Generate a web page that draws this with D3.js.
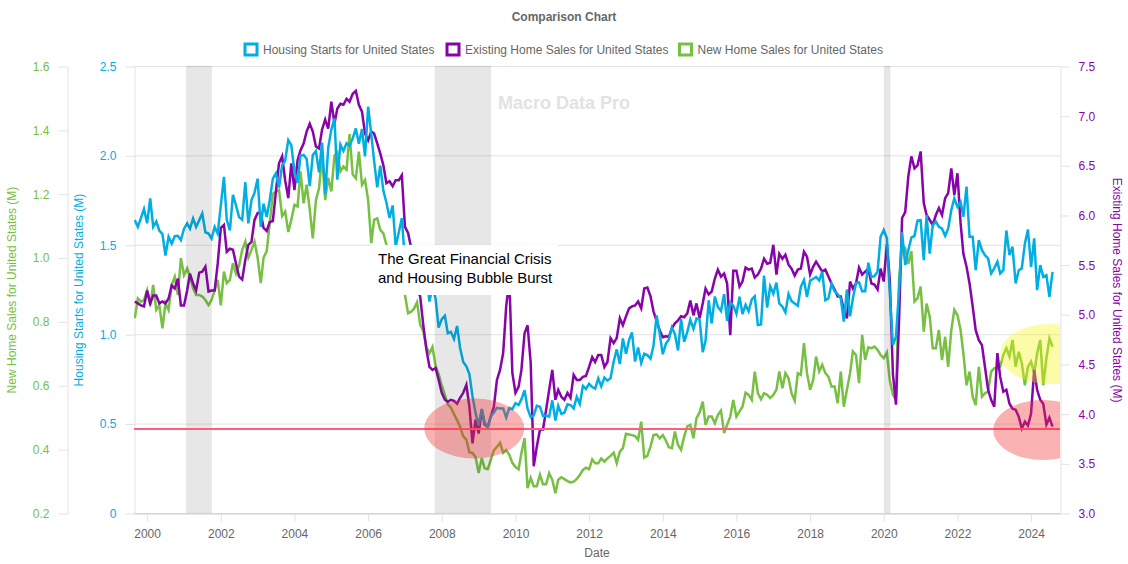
<!DOCTYPE html>
<html>
<head>
<meta charset="utf-8">
<script src="https://cdn.jsdelivr.net/npm/d3@7"></script>
<style>
  html, body { margin: 0; padding: 0; background: #fff; }
  svg { display: block; font-family: "Liberation Sans", Arial, sans-serif; }
</style>
</head>
<body>
<script>
// Monthly, Sep 1999 to Aug 2024, millions of units. One row per calendar year.
const firstMonth = new Date(1999, 8, 1);

const housingStarts = [
  1.638, 1.600, 1.650, 1.700,
  1.620, 1.760, 1.600, 1.630, 1.580, 1.560, 1.440, 1.545, 1.507, 1.548, 1.550, 1.526,
  1.590, 1.620, 1.590, 1.647, 1.600, 1.638, 1.675, 1.570, 1.563, 1.535, 1.600, 1.563,
  1.720, 1.880, 1.640, 1.580, 1.780, 1.720, 1.655, 1.640, 1.850, 1.620, 1.750, 1.790,
  1.870, 1.600, 1.730, 1.656, 1.750, 1.870, 1.900, 1.820, 1.945, 1.970, 2.085, 2.057,
  1.911, 1.846, 1.998, 2.003, 1.981, 1.828, 2.002, 2.024, 1.905, 2.072, 1.782, 2.042,
  2.144, 2.207, 1.864, 2.061, 2.025, 2.068, 2.054, 2.095, 2.151, 2.065, 2.147, 1.994,
  2.273, 2.119, 1.969, 1.821, 1.942, 1.802, 1.737, 1.650, 1.720, 1.491, 1.570, 1.649,
  1.409, 1.480, 1.495, 1.490, 1.415, 1.448, 1.354, 1.330, 1.183, 1.264, 1.197, 1.037,
  1.084, 1.103, 1.005, 1.013, 0.973, 1.046, 0.923, 0.844, 0.820, 0.777, 0.652, 0.560,
  0.490, 0.582, 0.505, 0.478, 0.540, 0.562, 0.588, 0.585, 0.585, 0.534, 0.588, 0.581,
  0.614, 0.604, 0.636, 0.687, 0.583, 0.536, 0.546, 0.599, 0.594, 0.543, 0.545, 0.539,
  0.630, 0.517, 0.600, 0.554, 0.561, 0.608, 0.604, 0.585, 0.650, 0.610, 0.711, 0.694,
  0.723, 0.704, 0.695, 0.753, 0.708, 0.757, 0.740, 0.754, 0.847, 0.915, 0.833, 0.976,
  0.890, 0.969, 1.010, 0.847, 0.926, 0.839, 0.891, 0.883, 0.863, 0.936, 1.105, 1.003,
  0.888, 0.947, 0.969, 1.038, 1.001, 0.909, 1.085, 0.957, 1.013, 1.081, 1.030, 1.088,
  1.080, 0.900, 0.963, 1.190, 1.060, 1.211, 1.152, 1.130, 1.224, 1.074, 1.179, 1.160,
  1.114, 1.210, 1.113, 1.164, 1.128, 1.195, 1.212, 1.051, 1.054, 1.328, 1.149, 1.268,
  1.226, 1.288, 1.172, 1.154, 1.122, 1.225, 1.185, 1.172, 1.159, 1.265, 1.303, 1.210,
  1.300, 1.310, 1.320, 1.300, 1.350, 1.190, 1.200, 1.280, 1.240, 1.225, 1.200, 1.070,
  1.250, 1.100, 1.200, 1.285, 1.290, 1.240, 1.240, 1.400, 1.320, 1.325, 1.350, 1.546,
  1.583, 1.536, 1.230, 0.940, 0.985, 1.247, 1.570, 1.387, 1.470, 1.540, 1.550, 1.635,
  1.638, 1.414, 1.666, 1.450, 1.610, 1.630, 1.600, 1.590, 1.550, 1.590, 1.694, 1.760,
  1.713, 1.740, 1.657, 1.825, 1.545, 1.545, 1.358, 1.526, 1.470, 1.442, 1.424, 1.340,
  1.368, 1.405, 1.340, 1.358, 1.580, 1.442, 1.489, 1.284, 1.358, 1.368, 1.508, 1.586,
  1.377, 1.536, 1.246, 1.386, 1.321, 1.330, 1.209, 1.349
];

const existingHomeSales = [
  5.13, 5.11, 5.09, 5.08,
  5.24, 5.11, 5.19, 5.19, 5.11, 5.13, 5.11, 5.16, 5.29, 5.26, 5.36, 5.09,
  5.09, 5.24, 5.41, 5.31, 5.24, 5.42, 5.43, 5.48, 5.23, 5.24, 5.24, 5.51,
  5.87, 5.90, 5.63, 5.66, 5.65, 5.51, 5.38, 5.35, 5.55, 5.70, 5.73, 5.95,
  6.02, 6.02, 5.87, 5.84, 5.93, 5.94, 6.23, 6.52, 6.59, 6.35, 6.17, 6.52,
  6.25, 6.55, 6.65, 6.72, 6.84, 6.92, 6.84, 6.69, 6.67, 6.86, 6.96, 6.87,
  7.14, 6.92, 7.07, 7.12, 7.11, 7.17, 7.14, 7.22, 7.25, 7.11, 7.04, 6.82,
  6.75, 6.84, 6.82, 6.72, 6.62, 6.50, 6.32, 6.34, 6.29, 6.35, 6.35, 6.40,
  5.88, 5.82, 5.68, 5.50, 5.25, 5.18, 4.90, 4.65, 4.47, 4.44, 4.46, 4.34,
  4.21, 4.14, 4.12, 4.14, 4.13, 4.10, 4.16, 4.21, 4.29, 4.07, 3.70, 3.94,
  3.80, 4.04, 3.89, 3.87, 3.97, 4.07, 4.34, 4.44, 4.61, 5.08, 5.35, 4.41,
  4.21, 4.27, 4.44, 4.81, 4.89, 4.51, 3.47, 3.67, 3.84, 3.84, 4.04, 4.24,
  4.44, 4.14, 4.24, 4.17, 4.14, 4.21, 4.16, 4.39, 4.34, 4.34, 4.37, 4.38,
  4.47, 4.57, 4.52, 4.59, 4.59, 4.47, 4.52, 4.76, 4.71, 4.76, 4.96, 4.89,
  4.98, 5.06, 5.08, 5.09, 5.13, 5.06, 5.26, 5.27, 5.18, 5.03, 4.93, 4.84,
  4.77, 4.78, 4.77, 4.86, 4.91, 4.94, 4.98, 4.97, 5.01, 5.14, 4.99, 5.11,
  4.96, 5.11, 5.26, 5.20, 5.23, 5.36, 5.45, 5.38, 5.41, 5.31, 4.79, 5.44,
  5.44, 5.28, 5.33, 5.47, 5.45, 5.46, 5.37, 5.40, 5.46, 5.56, 5.51, 5.52,
  5.70, 5.40, 5.61, 5.56, 5.60, 5.50, 5.46, 5.39, 5.45, 5.46, 5.63, 5.58,
  5.40, 5.48, 5.53, 5.48, 5.43, 5.45, 5.38, 5.31, 5.25, 5.18, 5.18, 5.04,
  4.96, 5.33, 5.26, 5.31, 5.47, 5.40, 5.43, 5.46, 5.31, 5.30, 5.25, 5.46,
  5.33, 5.71, 5.35, 4.40, 4.09, 4.94, 5.97, 6.03, 6.39, 6.59, 6.47, 6.50,
  6.64, 6.12, 6.00, 5.95, 5.90, 6.00, 6.07, 6.00, 6.17, 6.22, 6.47, 6.20,
  6.42, 5.92, 5.61, 5.48, 5.31, 5.08, 4.84, 4.74, 4.69, 4.47, 4.24, 4.14,
  4.07, 4.61, 4.37, 4.22, 4.24, 4.10, 4.05, 4.04, 3.97, 3.85, 3.92, 3.88,
  4.00, 4.44, 4.24, 4.14, 4.10, 3.89, 3.96, 3.87
];

const newHomeSales = [
  0.810, 0.872, 0.862, 0.867,
  0.898, 0.850, 0.914, 0.836, 0.851, 0.778, 0.857, 0.836, 0.914, 0.940, 0.883, 0.998,
  0.945, 0.966, 0.940, 0.904, 0.883, 0.883, 0.878, 0.867, 0.851, 0.867, 0.898, 0.930,
  0.850, 0.956, 0.920, 0.930, 0.982, 0.950, 0.975, 1.024, 1.050, 1.000, 1.024, 1.050,
  1.000, 0.920, 1.000, 1.020, 1.107, 1.200, 1.206, 1.212, 1.130, 1.144, 1.080, 1.118,
  1.165, 1.160, 1.270, 1.170, 1.228, 1.150, 1.060, 1.180, 1.217, 1.320, 1.180, 1.250,
  1.207, 1.320, 1.330, 1.270, 1.285, 1.275, 1.387, 1.260, 1.248, 1.332, 1.228, 1.243,
  1.180, 1.045, 1.118, 1.123, 1.087, 1.076, 1.040, 1.000, 1.000, 0.980, 0.970, 0.940,
  0.883, 0.826, 0.830, 0.840, 0.860, 0.790, 0.770, 0.720, 0.700, 0.720, 0.660, 0.635,
  0.600, 0.570, 0.540, 0.530, 0.510, 0.490, 0.470, 0.440, 0.430, 0.390, 0.388, 0.375,
  0.325, 0.372, 0.340, 0.337, 0.366, 0.397, 0.407, 0.420, 0.388, 0.397, 0.382, 0.357,
  0.344, 0.337, 0.388, 0.435, 0.278, 0.310, 0.284, 0.284, 0.320, 0.290, 0.290, 0.325,
  0.304, 0.262, 0.304, 0.312, 0.306, 0.300, 0.296, 0.298, 0.307, 0.319, 0.335, 0.342,
  0.337, 0.368, 0.356, 0.356, 0.371, 0.361, 0.371, 0.379, 0.389, 0.356, 0.392, 0.403,
  0.448, 0.446, 0.444, 0.441, 0.429, 0.486, 0.374, 0.379, 0.408, 0.444, 0.446, 0.434,
  0.444, 0.427, 0.406, 0.403, 0.455, 0.413, 0.398, 0.440, 0.471, 0.476, 0.434, 0.497,
  0.515, 0.549, 0.476, 0.502, 0.502, 0.481, 0.507, 0.521, 0.450, 0.476, 0.502, 0.554,
  0.502, 0.518, 0.533, 0.577, 0.570, 0.554, 0.643, 0.575, 0.556, 0.575, 0.570, 0.560,
  0.570, 0.586, 0.643, 0.591, 0.638, 0.622, 0.575, 0.552, 0.638, 0.633, 0.732, 0.638,
  0.586, 0.617, 0.690, 0.643, 0.664, 0.638, 0.627, 0.596, 0.596, 0.544, 0.643, 0.533,
  0.586, 0.638, 0.706, 0.695, 0.607, 0.758, 0.680, 0.719, 0.716, 0.721, 0.711, 0.695,
  0.685, 0.703, 0.616, 0.570, 0.554, 0.930, 1.040, 1.030, 0.980, 1.020, 0.862, 0.872,
  0.909, 0.768, 0.856, 0.815, 0.716, 0.716, 0.773, 0.679, 0.752, 0.658, 0.773, 0.836,
  0.820, 0.773, 0.700, 0.600, 0.643, 0.564, 0.538, 0.658, 0.564, 0.575, 0.580, 0.643,
  0.653, 0.653, 0.658, 0.695, 0.716, 0.690, 0.742, 0.658, 0.705, 0.669, 0.600, 0.658,
  0.674, 0.637, 0.700, 0.742, 0.600, 0.684, 0.747, 0.721
];

const housingStartsTicks = [0, 0.5, 1, 1.5, 2, 2.5];
const existingSalesTicks = [3, 3.5, 4, 4.5, 5, 5.5, 6, 6.5, 7, 7.5];
const newSalesTicks = [0.2, 0.4, 0.6, 0.8, 1, 1.2, 1.4, 1.6];
const yearTicks = d3.range(2000, 2025, 2);

const recessions = [
  ['2001-01-24', '2001-10-01'],
  ['2007-10-27', '2009-05-01'],
  ['2020-01-05', '2020-03-04']
];

// centre date, centre on the housing starts axis, half width in days
const highlights = [
  { date: '2008-11-18', value: 0.473, days: 495, color: 'rgba(240,50,50,0.38)' },
  { date: '2024-05-01', value: 0.464, days: 495, color: 'rgba(240,50,50,0.38)' },
  { date: '2024-07-08', value: 0.889, days: 495, color: 'rgba(245,245,20,0.37)' }
];

const thresholdValue = 0.47;

const blue = '#00aee4';
const purple = '#8804a8';
const green = '#77c043';
const axisGrey = '#e2e2e2';
const textGrey = '#666';

const width = 1128, height = 564;
const margin = { top: 66, right: 1060, bottom: 513, left: 134 };

const parseDay = d3.timeParse('%Y-%m-%d');
const months = housingStarts.map((d, i) => d3.timeMonth.offset(firstMonth, i));

const x = d3.scaleTime()
  .domain([new Date(1999, 7, 24), new Date(2024, 9, 14)])
  .range([margin.left, margin.right]);
const yBlue = d3.scaleLinear().domain([0, 2.5]).range([margin.bottom, margin.top]);
const yPurple = d3.scaleLinear().domain([3, 7.5]).range([margin.bottom, margin.top]);
const yGreen = d3.scaleLinear().domain([0.2, 1.6]).range([margin.bottom, margin.top]);

const svg = d3.select('body').append('svg')
  .attr('width', width)
  .attr('height', height);

svg.append('defs').append('clipPath').attr('id', 'plot')
  .append('rect')
  .attr('x', margin.left)
  .attr('y', margin.top)
  .attr('width', margin.right - margin.left)
  .attr('height', margin.bottom - margin.top);

// grid first so everything sits on top of it
svg.append('g').selectAll('line')
  .data(housingStartsTicks)
  .join('line')
  .attr('x1', margin.left)
  .attr('x2', margin.right)
  .attr('y1', d => yBlue(d) + 0.5)
  .attr('y2', d => yBlue(d) + 0.5)
  .attr('stroke', axisGrey);

function styleAxis(g, color) {
  g.attr('font-family', null).attr('font-size', 12);
  g.selectAll('.domain').attr('stroke', axisGrey);
  g.selectAll('.tick line').attr('stroke', axisGrey);
  g.selectAll('.tick text').attr('fill', color);
}

const tenths = d3.format('.1f');

svg.append('g')
  .attr('transform', 'translate(67.5,0.5)')
  .call(d3.axisLeft(yGreen).tickValues(newSalesTicks).tickSize(9).tickSizeOuter(0)
    .tickPadding(9).tickFormat(tenths))
  .call(styleAxis, green);

svg.append('g')
  .attr('transform', `translate(${margin.left + 0.5},0.5)`)
  .call(d3.axisLeft(yBlue).tickValues(housingStartsTicks).tickSize(9).tickSizeOuter(0)
    .tickPadding(9).tickFormat(d => d === 0 ? '0' : tenths(d)))
  .call(styleAxis, blue);

svg.append('g')
  .attr('transform', `translate(${margin.right + 0.5},0.5)`)
  .call(d3.axisRight(yPurple).tickValues(existingSalesTicks).tickSize(9).tickSizeOuter(0)
    .tickPadding(9).tickFormat(tenths))
  .call(styleAxis, purple);

const xAxis = svg.append('g')
  .attr('transform', `translate(0,${margin.bottom + 0.5})`)
  .call(d3.axisBottom(x)
    .tickValues(yearTicks.map(y => new Date(y, 0, 1)))
    .tickSize(8).tickSizeOuter(0).tickPadding(8)
    .tickFormat(d3.timeFormat('%Y')))
  .call(styleAxis, textGrey);
xAxis.selectAll('.domain').attr('stroke', '#ccc');

// lines
const line = y => d3.line().x((d, i) => x(months[i])).y(d => y(d));

const seriesLayer = svg.append('g').attr('clip-path', 'url(#plot)');
[[newHomeSales, yGreen, green], [existingHomeSales, yPurple, purple], [housingStarts, yBlue, blue]]
  .forEach(([values, y, color]) => {
    seriesLayer.append('path')
      .datum(values)
      .attr('fill', 'none')
      .attr('stroke', color)
      .attr('stroke-width', 2.5)
      .attr('stroke-linejoin', 'miter')
      .attr('d', line(y));
  });

// recession bands lie over the lines, the lines show through dimmed
svg.append('g').selectAll('rect')
  .data(recessions)
  .join('rect')
  .attr('x', d => x(parseDay(d[0])))
  .attr('y', margin.top)
  .attr('width', d => x(parseDay(d[1])) - x(parseDay(d[0])))
  .attr('height', margin.bottom - margin.top)
  .attr('fill', 'rgba(60,60,60,0.12)')
  .attr('stroke', 'rgba(60,60,60,0.04)');

svg.append('line')
  .attr('x1', margin.left)
  .attr('x2', margin.right)
  .attr('y1', yBlue(thresholdValue))
  .attr('y2', yBlue(thresholdValue))
  .attr('stroke', '#ff5c7e')
  .attr('stroke-width', 2);

svg.append('g').attr('clip-path', 'url(#plot)').selectAll('ellipse')
  .data(highlights)
  .join('ellipse')
  .attr('cx', d => x(parseDay(d.date)))
  .attr('cy', d => yBlue(d.value))
  .attr('rx', d => x(d3.timeDay.offset(parseDay(d.date), d.days)) - x(parseDay(d.date)))
  .attr('ry', 30)
  .attr('fill', d => d.color);

// note box hides what runs behind it
const note = svg.append('g');
note.append('rect')
  .attr('x', 371)
  .attr('y', 245)
  .attr('width', 187)
  .attr('height', 50)
  .attr('fill', '#fff');
note.selectAll('text')
  .data(['The Great Financial Crisis', 'and Housing Bubble Burst'])
  .join('text')
  .attr('x', 378)
  .attr('y', (d, i) => 264 + i * 19)
  .attr('font-size', 15)
  .attr('fill', '#000')
  .text(d => d);

svg.append('text')
  .attr('x', 498)
  .attr('y', 109)
  .attr('font-size', 18)
  .attr('font-weight', 'bold')
  .attr('fill', '#e2e2e2')
  .text('Macro Data Pro');

svg.append('text')
  .attr('x', 564)
  .attr('y', 21)
  .attr('text-anchor', 'middle')
  .attr('font-size', 12)
  .attr('font-weight', 'bold')
  .attr('fill', textGrey)
  .text('Comparison Chart');

svg.append('text')
  .attr('x', 597)
  .attr('y', 557)
  .attr('text-anchor', 'middle')
  .attr('font-size', 12)
  .attr('fill', textGrey)
  .text('Date');

const axisTitles = [
  { label: 'New Home Sales for United States (M)', x: 12, angle: -90, color: green },
  { label: 'Housing Starts for United States (M)', x: 79, angle: -90, color: blue },
  { label: 'Existing Home Sales for United States (M)', x: 1117, angle: 90, color: purple }
];
svg.append('g').selectAll('text')
  .data(axisTitles)
  .join('text')
  .attr('transform', d => `translate(${d.x},290) rotate(${d.angle})`)
  .attr('text-anchor', 'middle')
  .attr('dominant-baseline', 'central')
  .attr('font-size', 12)
  .attr('fill', d => d.color)
  .text(d => d.label);

const legendItems = [
  { label: 'Housing Starts for United States', x: 245, color: blue },
  { label: 'Existing Home Sales for United States', x: 447, color: purple },
  { label: 'New Home Sales for United States', x: 679.5, color: green }
];
const legend = svg.append('g').selectAll('g')
  .data(legendItems)
  .join('g')
  .attr('transform', d => `translate(${d.x},44)`);
legend.append('rect')
  .attr('width', 12)
  .attr('height', 11)
  .attr('fill', '#fff')
  .attr('stroke', d => d.color)
  .attr('stroke-width', 3);
legend.append('text')
  .attr('x', 18)
  .attr('y', 10)
  .attr('font-size', 12)
  .attr('fill', textGrey)
  .text(d => d.label);
</script>
</body>
</html>
